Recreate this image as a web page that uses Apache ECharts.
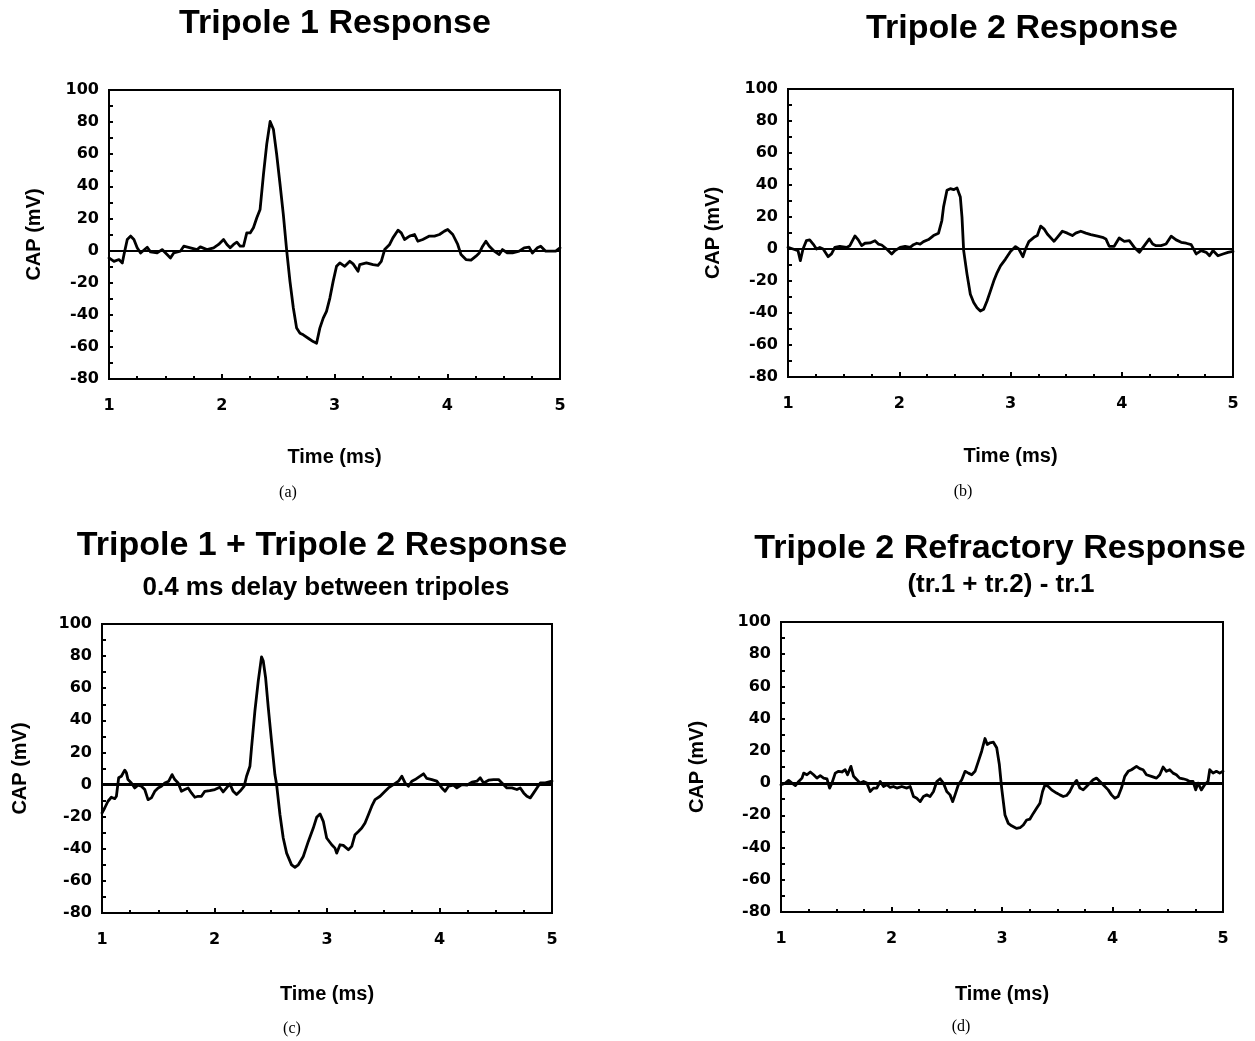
<!DOCTYPE html>
<html>
<head>
<meta charset="utf-8">
<script src="https://cdn.jsdelivr.net/npm/echarts@6/dist/echarts.min.js"></script>
<style>
  html, body { margin: 0; padding: 0; background: #fff; }
  #chart { width: 1255px; height: 1041px; }
</style>
</head>
<body>
<div id="chart"></div>
<script>
// ---------- Data ----------
const panelTitles = ["Tripole 1 Response", "Tripole 2 Response", "Tripole 1 + Tripole 2 Response", "Tripole 2 Refractory Response"];
const panelSubtitles = ["", "", "0.4 ms delay between tripoles", "(tr.1 + tr.2) - tr.1"];
const panelCaptions = ["(a)", "(b)", "(c)", "(d)"];
const xAxisTitle = "Time (ms)";
const yAxisTitle = "CAP (mV)";
const xTicks = [1, 2, 3, 4, 5];
const yTicks = [-80, -60, -40, -20, 0, 20, 40, 60, 80, 100];

// (a) Tripole 1 response
const timeA = [1.000,1.044,1.088,1.118,1.133,1.162,1.191,1.221,1.250,1.280,1.339,1.368,1.427,1.471,1.515,1.545,1.574,1.633,1.663,1.722,1.781,1.810,1.869,1.928,1.972,2.016,2.046,2.075,2.105,2.134,2.163,2.193,2.222,2.252,2.281,2.311,2.340,2.370,2.399,2.429,2.458,2.487,2.517,2.546,2.576,2.605,2.635,2.664,2.694,2.723,2.767,2.811,2.841,2.870,2.900,2.929,2.959,2.988,3.018,3.047,3.091,3.136,3.165,3.209,3.224,3.283,3.342,3.386,3.415,3.445,3.489,3.518,3.563,3.592,3.621,3.666,3.710,3.739,3.783,3.842,3.887,3.931,3.975,4.004,4.049,4.093,4.122,4.166,4.211,4.255,4.284,4.314,4.343,4.373,4.417,4.461,4.490,4.535,4.579,4.638,4.682,4.726,4.755,4.800,4.829,4.873,4.918,4.962,5.000];
const capA = [-4.6,-6.7,-5.6,-7.7,-2.5,6.9,9,6.9,1.7,-1.5,2.1,-0.8,-1.5,0.6,-2.5,-4.6,-1.5,-0.4,2.7,1.7,0.6,2.3,0.6,1.7,3.8,6.9,3.8,1.7,3.8,5.2,2.7,2.7,11,11,14.2,20.4,25.6,47.5,66.3,80.4,75.6,60,41.3,22.5,0,-19.2,-35.8,-48.3,-51.5,-52.5,-54.6,-56.7,-57.7,-48.3,-42.1,-37.9,-29.6,-19.2,-9.8,-7.7,-9.8,-6.7,-8.3,-12.9,-8.8,-7.7,-8.8,-9.2,-6.7,0.6,3.8,7.9,12.7,11,6.9,9,10,5.8,6.9,9,9,10,12.1,13.1,10,3.8,-2.5,-5.6,-6,-3.5,-1.5,2.7,5.8,2.7,-0.4,-2.5,0.6,-1.5,-1.5,-0.4,1.7,2.1,-1.5,1.7,2.7,-0.4,-0.4,-0.4,1.7];

// (b) Tripole 2 response
const timeB = [1.000,1.045,1.090,1.111,1.135,1.165,1.195,1.226,1.256,1.286,1.316,1.361,1.391,1.421,1.466,1.526,1.556,1.602,1.632,1.662,1.692,1.737,1.782,1.812,1.842,1.887,1.932,1.962,2.008,2.053,2.098,2.128,2.158,2.188,2.218,2.263,2.308,2.353,2.383,2.398,2.429,2.459,2.489,2.519,2.549,2.564,2.579,2.609,2.639,2.669,2.699,2.729,2.759,2.789,2.820,2.850,2.880,2.910,2.955,3.000,3.045,3.075,3.090,3.111,3.135,3.165,3.211,3.241,3.271,3.301,3.331,3.391,3.421,3.466,3.511,3.556,3.586,3.632,3.677,3.722,3.782,3.827,3.857,3.887,3.932,3.977,4.023,4.068,4.113,4.158,4.203,4.248,4.278,4.308,4.353,4.398,4.444,4.489,4.534,4.579,4.624,4.669,4.714,4.759,4.789,4.820,4.865,4.910,4.955,5.000];
const capB = [1.0,0,-1,-7.3,0,5.2,5.7,3.1,0,1,0,-4.8,-3.1,1,1.7,1,2.1,8.2,5.7,2.1,3.6,3.8,5.2,3.1,2.5,0,-3.1,-1,1,1.7,1,2.7,3.6,3.1,4.6,5.9,8.4,9.9,17.8,26.2,36.7,37.7,37.1,38.2,32.5,19.9,-1,-15.7,-28.3,-33.5,-36.7,-38.8,-37.7,-32.5,-26.2,-19.9,-14.7,-10.5,-6.3,-1.5,1.5,0,-1,-4.8,0,4.6,7.3,8.4,14.3,12.6,9.4,4.8,7.3,11.1,9.9,8.4,9.9,11.1,9.9,9,8,7.3,6.3,1.7,1.7,6.9,4.8,5.2,1,-2.1,2.1,6.3,3.1,2.1,2.1,3.1,8,5.7,4.2,3.6,2.7,-3.1,-1,-2.1,-4.2,-1,-4.2,-3.1,-2.1,-1.5];

// (c) Tripole 1 + Tripole 2 response
const timeC = [1.000,1.024,1.053,1.083,1.113,1.128,1.148,1.172,1.202,1.217,1.231,1.261,1.291,1.320,1.350,1.380,1.409,1.439,1.469,1.499,1.528,1.558,1.593,1.623,1.647,1.677,1.706,1.736,1.766,1.795,1.825,1.855,1.884,1.914,1.958,2.003,2.047,2.077,2.107,2.136,2.166,2.196,2.226,2.264,2.285,2.315,2.329,2.359,2.389,2.418,2.433,2.454,2.478,2.507,2.537,2.552,2.582,2.611,2.641,2.685,2.715,2.745,2.789,2.834,2.878,2.908,2.938,2.967,2.997,3.042,3.071,3.086,3.116,3.145,3.190,3.220,3.249,3.279,3.309,3.338,3.368,3.398,3.427,3.472,3.516,3.546,3.590,3.635,3.665,3.694,3.724,3.754,3.783,3.828,3.858,3.887,3.932,3.976,4.021,4.050,4.080,4.125,4.154,4.199,4.243,4.288,4.332,4.362,4.392,4.436,4.481,4.525,4.555,4.599,4.644,4.688,4.718,4.748,4.777,4.807,4.837,4.866,4.896,4.941,5.000];
const capC = [-17.7,-14.6,-10.4,-7.9,-8.8,-7.3,4.2,5.2,9,7.3,3.1,1,-2.1,-0.4,-1,-3.1,-9.4,-8.3,-4.2,-2.1,-1,1,2.1,6.2,3.1,1,-4.2,-3.1,-2.1,-5.2,-7.9,-7.3,-7.3,-4.2,-3.8,-3.1,-1.7,-4.6,-2.1,0.4,-4.2,-6.2,-4.2,-1,5.2,11.4,22.9,45.8,64.6,79.5,77.1,66.7,47.9,27.1,6.2,0,-18.8,-33.3,-42.7,-50,-51.5,-50,-44.8,-35.4,-27.1,-20.4,-18.3,-22.9,-33.3,-37.5,-39.6,-42.7,-37.5,-37.9,-40.6,-38.5,-31.2,-29.2,-27.1,-24,-18.8,-13.5,-9.4,-7.3,-4.2,-2.1,0,2.1,5.2,1,-1,2.1,3.1,5.2,6.7,3.8,3.1,2.1,-2.1,-4.2,-1,-0.4,-2.1,0,-0.4,1.5,2.1,4.2,1,2.7,3.1,3.1,1,-2.1,-2.1,-3.1,-2.1,-5.2,-7.3,-8.3,-5.2,-2.1,1,1,2.1];

// (d) Tripole 2 refractory response
const timeD = [1.000,1.039,1.069,1.099,1.130,1.160,1.190,1.205,1.235,1.265,1.295,1.325,1.355,1.386,1.416,1.440,1.461,1.491,1.521,1.551,1.581,1.602,1.633,1.657,1.687,1.717,1.747,1.777,1.807,1.837,1.867,1.898,1.928,1.958,1.988,2.018,2.048,2.093,2.139,2.169,2.199,2.229,2.259,2.289,2.319,2.349,2.380,2.410,2.440,2.470,2.500,2.530,2.554,2.575,2.605,2.636,2.666,2.696,2.726,2.756,2.786,2.816,2.846,2.867,2.892,2.922,2.952,2.976,2.997,3.027,3.057,3.087,3.133,3.163,3.193,3.223,3.253,3.283,3.313,3.343,3.367,3.389,3.419,3.449,3.494,3.524,3.554,3.584,3.614,3.645,3.675,3.705,3.735,3.765,3.795,3.825,3.855,3.886,3.916,3.961,3.991,4.021,4.051,4.081,4.111,4.142,4.172,4.217,4.247,4.277,4.307,4.352,4.398,4.428,4.458,4.488,4.518,4.548,4.578,4.608,4.639,4.669,4.699,4.729,4.753,4.774,4.804,4.834,4.864,4.880,4.910,4.940,4.970,5.000];
const capD = [-1,0,1.7,0,-1.5,1,3.1,6.2,5.2,6.9,5.2,3.1,4.6,3.1,2.7,-3.1,0,6.2,7.3,6.9,8.3,5.2,10.4,4.2,2.1,0,1,0,-5.2,-3.1,-3.1,1,-2.1,-1,-2.7,-2.1,-3.1,-2.1,-3.1,-2.1,-8.3,-9.4,-11.5,-8.3,-7.3,-8.3,-5.2,1,2.7,0,-5.2,-7.3,-11.5,-7.3,-1,2.1,7.3,6.2,5.2,7.3,13.5,19.8,27.7,24,25,25.4,21.9,11.5,-3.1,-19.8,-25,-26.5,-28.1,-27.7,-26,-22.9,-22.3,-18.8,-15.6,-12.5,-5.2,-1,-2.1,-4.2,-6.2,-7.3,-8.3,-7.7,-5.2,-1,1.7,-3.1,-4.2,-2.1,0,2.1,3.1,1,-1,-4.2,-7.3,-9.4,-8.3,-3.1,4.2,7.3,8.3,10.4,9,8.3,5.2,4.2,3.1,5.2,10,7.3,8.3,6.2,5.2,3.1,2.7,2.1,1,1,-4.2,0,-4.2,-1,1,8.3,6.2,7.3,6.2,7.3];

// ---------- Layout ----------
const grids = [
  {left: 109, top: 90,  width: 451, height: 289},
  {left: 788, top: 89,  width: 445, height: 288},
  {left: 102, top: 624, width: 450, height: 289},
  {left: 781, top: 622, width: 442, height: 290}
];
const xNameGap = [78, 79, 81, 82];
const yNameGap = [75, 75, 82, 84];
const zeroWidth = [2, 2, 3, 3];
const titlePos = [[335, 24], [1022, 29], [322, 546], [1000, 549]];
const subPos = [null, null, [326, 588], [1001, 585]];
const capPos = [[288, 493], [963, 492], [292, 1029], [961, 1027]];

const times = [timeA, timeB, timeC, timeD];
const caps = [capA, capB, capC, capD];

const labelFont = {color: '#000', fontFamily: 'DejaVu Sans', fontWeight: 'bold', fontSize: 16};
const nameFont = {color: '#000', fontFamily: 'Liberation Sans', fontWeight: 'bold', fontSize: 20, verticalAlign: 'middle'};

const option = {
  animation: false,
  backgroundColor: '#fff',
  grid: grids.map(g => Object.assign({show: true, borderColor: '#000', borderWidth: 2, backgroundColor: 'transparent'}, g)),
  xAxis: grids.map((g, i) => ({
    type: 'value', gridIndex: i,
    min: xTicks[0], max: xTicks[xTicks.length - 1], interval: 1,
    name: xAxisTitle, nameLocation: 'middle', nameGap: xNameGap[i], nameTextStyle: nameFont,
    axisLine: {show: true, onZero: false, lineStyle: {color: '#000', width: 2}},
    axisTick: {show: true, inside: true, length: 5, lineStyle: {color: '#000', width: 2}},
    minorTick: {show: true, splitNumber: 4, length: 3, lineStyle: {color: '#000', width: 2}},
    splitLine: {show: false},
    axisLabel: Object.assign({margin: 19, formatter: v => String(v)}, labelFont)
  })),
  yAxis: grids.map((g, i) => ({
    type: 'value', gridIndex: i,
    min: yTicks[0], max: yTicks[yTicks.length - 1], interval: 20,
    name: yAxisTitle, nameLocation: 'middle', nameGap: yNameGap[i], nameTextStyle: nameFont,
    axisLine: {show: true, onZero: false, lineStyle: {color: '#000', width: 2}},
    axisTick: {show: true, inside: true, length: 4, lineStyle: {color: '#000', width: 2}},
    minorTick: {show: true, splitNumber: 2, length: 4, lineStyle: {color: '#000', width: 2}},
    splitLine: {show: false},
    axisLabel: Object.assign({margin: 10, formatter: v => String(v)}, labelFont)
  })),
  series: times.map((t, i) => ({
    type: 'line', xAxisIndex: i, yAxisIndex: i,
    data: t.map((x, k) => [x, caps[i][k]]),
    showSymbol: false, smooth: false,
    lineStyle: {color: '#000', width: 2.8, join: 'round', cap: 'round'},
    markLine: {
      silent: true, symbol: ['none', 'none'], label: {show: false},
      lineStyle: {color: '#000', type: 'solid', width: zeroWidth[i]},
      data: [{yAxis: 0}]
    }
  })),
  graphic: []
};

panelTitles.forEach((t, i) => {
  option.graphic.push({type: 'text', x: titlePos[i][0], y: titlePos[i][1],
    style: {text: t, fill: '#000', font: 'bold 34px "Liberation Sans", Arial, sans-serif', textAlign: 'center', textVerticalAlign: 'middle'}});
  if (panelSubtitles[i]) {
    option.graphic.push({type: 'text', x: subPos[i][0], y: subPos[i][1],
      style: {text: panelSubtitles[i], fill: '#000', font: 'bold 26px "Liberation Sans", Arial, sans-serif', textAlign: 'center', textVerticalAlign: 'middle'}});
  }
  option.graphic.push({type: 'text', x: capPos[i][0], y: capPos[i][1],
    style: {text: panelCaptions[i], fill: '#000', font: '16px "Liberation Serif", "Times New Roman", serif', textAlign: 'center', textVerticalAlign: 'middle'}});
});

const chart = echarts.init(document.getElementById('chart'));
chart.setOption(option);
</script>
</body>
</html>
